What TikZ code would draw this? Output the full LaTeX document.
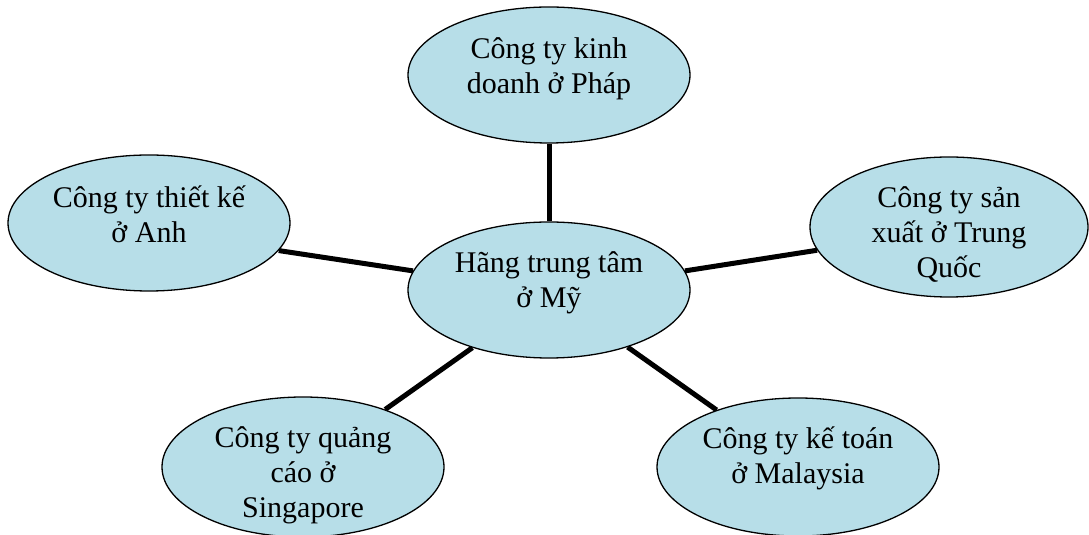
\documentclass[tikz,border=0pt]{standalone}
\usepackage{fontspec}
\setmainfont{Liberation Serif}
\usetikzlibrary{shapes.geometric,backgrounds}
\definecolor{bubblefill}{HTML}{B7DEE8}
% fixed height for the first line of every caption, so captions hang from a known top
\newcommand{\capstrut}{\rule{0pt}{30pt}}
\begin{document}
\begin{tikzpicture}[x=1pt,y=1pt,
  bubble/.style={ellipse,draw=black,line width=1.3pt,fill=bubblefill,
    minimum width=282pt,minimum height=136pt,inner sep=0pt},
  caption/.style={anchor=north,inner sep=0pt,align=center,
    font=\fontsize{30}{35}\selectfont},
  link/.style={line width=5pt,line cap=butt}]
\useasboundingbox (0,0) rectangle (1089,535);

% bubbles
\node[bubble] (fr)  at (549,460) {};
\node[bubble] (anh) at (149,312) {};
\node[bubble] (hub) at (549,245) {};
\node[bubble,minimum width=278pt,minimum height=140pt] (tq) at (949,308) {};
\node[bubble,minimum height=140pt] (sg) at (303,68) {};
\node[bubble,minimum height=138pt] (my) at (798,68) {};

% captions
\node[caption] (frt)  at (549,507) {\capstrut Công ty kinh\\doanh ở Pháp};
\node[caption] (anht) at (149,358) {\capstrut Công ty thiết kế\\ở Anh};
\node[caption] (hubt) at (549,293) {\capstrut Hãng trung tâm\\ở Mỹ};
\node[caption] (tqt)  at (949,358) {\capstrut Công ty sản\\xuất ở Trung\\Quốc};
\node[caption] (sgt)  at (303,118) {\capstrut Công ty quảng\\cáo ở\\Singapore};
\node[caption] (myt)  at (798,117) {\capstrut Công ty kế toán\\ở Malaysia};

% spokes from the hub
\begin{scope}[on background layer]
  \draw[link] (hub.90)    -- (fr.270);
  \draw[link] (hub.172)   -- (anh.-12);
  \draw[link] (hub.8.5)   -- (tq.190);
  \draw[link] (hub.217.5) -- (sg.35.7);
  \draw[link] (hub.-36.4) -- (my.145.2);
\end{scope}
\end{tikzpicture}
\end{document}
